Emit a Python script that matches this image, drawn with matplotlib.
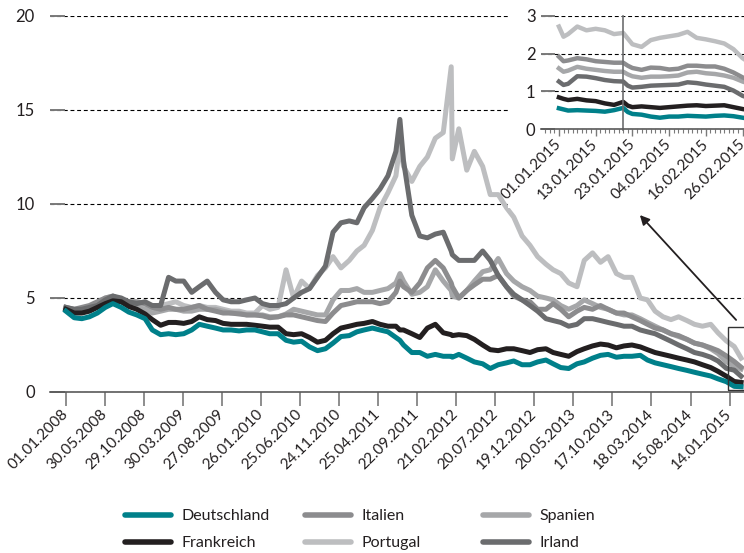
import numpy as np
import pandas as pd
import matplotlib
matplotlib.use('Agg')
import matplotlib.pyplot as plt
from matplotlib.patches import Rectangle, FancyArrowPatch
from matplotlib.lines import Line2D
from matplotlib.ticker import FixedLocator, MultipleLocator

plt.rcParams['font.family'] = ['Lato', 'DejaVu Sans']

START = '2008-01-01'

# first business day of every month + a few extra points (spikes, last day)
month_dates = pd.date_range('2008-01-01', '2015-02-02', freq='BMS')
extra_dates = pd.to_datetime(['2011-07-18', '2012-02-06', '2015-02-27'])
dates = month_dates.append(extra_dates).sort_values()

deutschland = [4.3, 3.95, 3.9, 4.0, 4.2, 4.5, 4.7, 4.5, 4.25, 4.1, 3.9, 3.3, 3.05, 3.1, 3.05, 3.1, 3.3, 3.6, 3.5, 3.4,
               3.3, 3.3, 3.25, 3.3, 3.3, 3.2, 3.1, 3.1, 2.75, 2.65, 2.7, 2.4, 2.2, 2.3, 2.6, 2.95,
               3.0, 3.2, 3.3, 3.4, 3.3, 3.2, 2.9, 2.75,
               2.5, 2.1, 2.1, 1.9, 2.0, 1.9, 1.9, 1.85,
               2.0, 1.8, 1.6, 1.5, 1.25, 1.45, 1.55, 1.65, 1.45, 1.45,
               1.6, 1.7, 1.5, 1.3, 1.25, 1.5, 1.6, 1.8, 1.95, 2.0, 1.85, 1.9,
               1.9, 1.95, 1.7, 1.55, 1.45, 1.35, 1.25, 1.15, 1.05, 0.95, 0.85, 0.7,
               0.55, 0.3, 0.28]
frankreich = [4.4, 4.2, 4.2, 4.3, 4.5, 4.7, 4.85, 4.8, 4.55, 4.4, 4.15, 3.85, 3.55, 3.7, 3.7, 3.65, 3.75, 4.0, 3.85, 3.8,
              3.65, 3.6, 3.6, 3.6, 3.55, 3.5, 3.45, 3.45, 3.1, 3.05, 3.1, 2.9, 2.65, 2.75, 3.1, 3.4,
              3.5, 3.6, 3.65, 3.75, 3.6, 3.5, 3.5, 3.3,
              3.3, 3.1, 2.9, 3.4, 3.6, 3.15, 3.05, 3.0,
              3.05, 3.0, 2.8, 2.5, 2.25, 2.2, 2.3, 2.3, 2.2, 2.1,
              2.25, 2.3, 2.1, 2.0, 1.9, 2.15, 2.3, 2.45, 2.55, 2.5, 2.35, 2.45,
              2.5, 2.4, 2.25, 2.1, 2.0, 1.9, 1.8, 1.7, 1.6, 1.45, 1.3, 1.1,
              0.84, 0.56, 0.51]
italien = [4.5, 4.4, 4.5, 4.6, 4.8, 5.0, 5.1, 4.9, 4.8, 4.8, 4.7, 4.5, 4.4, 4.5, 4.4, 4.4, 4.5, 4.6, 4.4, 4.3,
           4.2, 4.2, 4.15, 4.1, 4.1, 4.05, 3.95, 4.0, 4.1, 4.1, 4.0, 3.9, 3.8, 3.75, 4.2, 4.6,
           4.7, 4.8, 4.8, 4.8, 4.7, 4.8, 5.3, 5.9,
           5.6, 5.3, 5.8, 6.6, 7.0, 6.6, 5.8, 5.6,
           5.0, 5.4, 5.7, 6.0, 6.0, 6.2, 5.6, 5.1, 4.9, 4.8,
           4.4, 4.4, 4.7, 4.4, 4.0, 4.3, 4.5, 4.4, 4.6, 4.4, 4.2, 4.2,
           4.0, 3.8, 3.6, 3.4, 3.3, 3.1, 3.0, 2.8, 2.6, 2.5, 2.35, 2.2,
           1.92, 1.62, 1.32]
spanien = [4.4, 4.2, 4.3, 4.4, 4.6, 4.9, 5.0, 4.8, 4.6, 4.5, 4.4, 4.2, 4.3, 4.4, 4.4, 4.3, 4.3, 4.4, 4.4, 4.4,
           4.3, 4.2, 4.2, 4.1, 4.1, 4.1, 4.0, 4.0, 4.15, 4.4, 4.3, 4.2, 4.1, 4.1, 4.9, 5.4,
           5.4, 5.5, 5.3, 5.3, 5.4, 5.5, 5.8, 6.3,
           5.9, 5.2, 5.3, 5.6, 6.5, 5.9, 5.4, 5.1,
           5.0, 5.4, 5.9, 6.4, 6.5, 7.1, 6.3, 5.9, 5.6, 5.4,
           5.1, 5.0, 4.9, 4.6, 4.4, 4.6, 4.9, 4.7, 4.5, 4.4, 4.2, 4.1,
           4.1, 3.9, 3.7, 3.5, 3.3, 3.1, 2.95, 2.8, 2.6, 2.5, 2.3, 2.05,
           1.61, 1.39, 1.22]
portugal = [4.5, 4.3, 4.4, 4.5, 4.7, 5.0, 5.1, 4.9, 4.7, 4.6, 4.5, 4.3, 4.6, 4.7, 4.8, 4.6, 4.5, 4.6, 4.5, 4.5,
            4.4, 4.3, 4.3, 4.2, 4.2, 4.6, 4.4, 4.5, 6.5, 5.0, 5.9, 5.5, 6.2, 6.6, 7.2, 6.6,
            7.0, 7.5, 7.8, 8.6, 9.8, 10.6, 11.5, 13.2,
            12.0, 11.2, 12.0, 12.5, 13.5, 13.8, 17.3, 12.4,
            14.0, 11.8, 12.8, 12.0, 10.5, 10.5, 9.8, 9.3, 8.3, 7.8,
            7.2, 6.8, 6.5, 6.3, 5.8, 5.6, 7.0, 7.4, 6.9, 7.2, 6.3, 6.1,
            6.1, 5.0, 4.9, 4.3, 4.0, 3.85, 4.0, 3.8, 3.6, 3.5, 3.6, 3.15,
            2.72, 2.42, 1.8]
irland = [4.5, 4.4, 4.4, 4.5, 4.6, 4.9, 5.1, 5.0, 4.8, 4.7, 4.8, 4.6, 4.6, 6.1, 5.9, 5.9, 5.3, 5.6, 5.9, 5.3,
          4.9, 4.8, 4.8, 4.9, 5.0, 4.7, 4.6, 4.6, 4.7, 5.0, 5.3, 5.5, 6.1, 6.7, 8.5, 9.0,
          9.1, 9.0, 9.8, 10.3, 10.8, 11.5, 12.8, 14.5,
          12.3, 9.4, 8.3, 8.2, 8.4, 8.5, 7.5, 7.3,
          7.0, 7.0, 7.0, 7.5, 7.0, 6.2, 5.6, 5.2, 4.9, 4.6,
          4.3, 3.9, 3.8, 3.7, 3.5, 3.6, 3.9, 3.9, 3.8, 3.7, 3.6, 3.5,
          3.5, 3.3, 3.2, 3.1, 2.9, 2.7, 2.5, 2.3, 2.1, 2.0, 1.85, 1.65,
          1.26, 1.16, 0.84]

# daily detail for the inset (Jan/Feb 2015)
inset_dates = ['2015-01-01', '2015-01-02', '2015-01-05', '2015-01-07', '2015-01-09', '2015-01-13',
               '2015-01-15', '2015-01-19', '2015-01-21', '2015-01-22', '2015-01-23', '2015-01-27',
               '2015-01-29', '2015-02-02', '2015-02-04', '2015-02-06', '2015-02-10', '2015-02-12',
               '2015-02-16', '2015-02-18', '2015-02-20', '2015-02-24', '2015-02-26', '2015-02-27']
in_deutschland = [0.55, 0.52, 0.49, 0.5, 0.49, 0.48, 0.46, 0.5, 0.56, 0.45, 0.4, 0.38,
                  0.33, 0.3, 0.33, 0.33, 0.35, 0.34, 0.33, 0.35, 0.36, 0.34, 0.3, 0.28]
in_frankreich = [0.84, 0.8, 0.77, 0.8, 0.76, 0.74, 0.68, 0.64, 0.72, 0.62, 0.58, 0.6,
                 0.58, 0.56, 0.58, 0.6, 0.62, 0.63, 0.61, 0.62, 0.63, 0.58, 0.53, 0.51]
in_italien = [1.92, 1.8, 1.82, 1.88, 1.85, 1.8, 1.78, 1.76, 1.76, 1.68, 1.62, 1.57,
              1.63, 1.62, 1.58, 1.6, 1.68, 1.68, 1.66, 1.66, 1.6, 1.5, 1.37, 1.32]
in_spanien = [1.61, 1.52, 1.55, 1.65, 1.6, 1.57, 1.54, 1.52, 1.52, 1.45, 1.4, 1.36,
              1.39, 1.39, 1.4, 1.42, 1.5, 1.52, 1.48, 1.46, 1.42, 1.36, 1.26, 1.22]
in_portugal = [2.72, 2.45, 2.52, 2.72, 2.62, 2.66, 2.62, 2.52, 2.55, 2.4, 2.25, 2.18,
               2.36, 2.42, 2.46, 2.5, 2.58, 2.42, 2.38, 2.33, 2.27, 2.12, 1.88, 1.8]
in_irland = [1.26, 1.17, 1.2, 1.4, 1.39, 1.35, 1.3, 1.27, 1.26, 1.15, 1.1, 1.12,
             1.15, 1.16, 1.17, 1.18, 1.24, 1.22, 1.18, 1.15, 1.12, 1.02, 0.88, 0.84]

main_ticks = ['01.01.2008', '30.05.2008', '29.10.2008', '30.03.2009', '27.08.2009', '26.01.2010',
              '25.06.2010', '24.11.2010', '25.04.2011', '22.09.2011', '21.02.2012', '20.07.2012',
              '19.12.2012', '20.05.2013', '17.10.2013', '18.03.2014', '15.08.2014', '14.01.2015']
inset_ticks = ['01.01.2015', '13.01.2015', '23.01.2015', '04.02.2015', '16.02.2015', '26.02.2015']
qe_date = '2015-01-21'

colors = {'Deutschland': '#00808a', 'Frankreich': '#231f20', 'Italien': '#8c8c8e',
          'Portugal': '#bdbec0', 'Spanien': '#a6a7a9', 'Irland': '#6b6c6e'}
main_data = {'Deutschland': deutschland, 'Frankreich': frankreich, 'Italien': italien,
             'Portugal': portugal, 'Spanien': spanien, 'Irland': irland}
inset_data = {'Deutschland': in_deutschland, 'Frankreich': in_frankreich, 'Italien': in_italien,
              'Portugal': in_portugal, 'Spanien': in_spanien, 'Irland': in_irland}
draw_order = ['Portugal', 'Spanien', 'Italien', 'Irland', 'Frankreich', 'Deutschland']


def bday(d, start=START):
    # business-day index counted from start
    d = pd.DatetimeIndex(pd.to_datetime(np.atleast_1d(d)))
    return np.busday_count(np.datetime64(start), d.values.astype('datetime64[D]'))


def dmy(labels):
    return pd.to_datetime(labels, format='%d.%m.%Y')


GRID = dict(color='black', lw=0.8, ls=(0, (3.5, 2.5)))
TICKC = '#7a7a7a'
TXT = '#231f20'

fig = plt.figure(figsize=(7.44, 5.53), dpi=100)

# ---- main chart
ax = fig.add_axes([50 / 744, 161 / 553, 694 / 744, 376 / 553])
x = bday(dates)
for n in draw_order:
    ax.plot(x, main_data[n], color=colors[n], lw=3.6, solid_joinstyle='round')
ax.set_ylim(0, 20)
ax.set_xlim(-44, 1876)
ax.set_yticks([0, 5, 10, 15, 20])
ax.yaxis.grid(True, **GRID)
ax.set_axisbelow(True)
ax.xaxis.set_major_locator(FixedLocator(bday(dmy(main_ticks))))
ax.set_xticklabels(main_ticks, rotation=45, ha='right', va='center', rotation_mode='anchor')
ax.tick_params(axis='y', direction='in', length=11, width=1.4, color=TICKC, pad=11,
               labelsize=12, labelcolor=TXT)
ax.tick_params(axis='x', direction='out', length=10, width=1.2, color=TICKC, pad=4,
               labelsize=11, labelcolor=TXT)
for s in ['left', 'right', 'top']:
    ax.spines[s].set_visible(False)
ax.spines['bottom'].set_color('#5a5a5a')
ax.spines['bottom'].set_linewidth(1.2)

# box around the zoomed period
ax.add_patch(Rectangle((bday('2015-01-08')[0], 0.1), 200, 3.35, fill=False,
                       edgecolor='#333333', lw=1.0, zorder=5))

# white area behind the inset
fig.add_artist(Rectangle((508 / 744, (553 - 208) / 553), 236 / 744, 208 / 553,
                         transform=fig.transFigure, facecolor='white', edgecolor='none', zorder=1))

# ---- inset
axi = fig.add_axes([541 / 744, (553 - 129) / 553, 203 / 744, 113 / 553])
axi.set_zorder(2)
axi.set_facecolor('none')
xi = bday(inset_dates, start='2015-01-01')
for n in draw_order:
    axi.plot(xi, inset_data[n], color=colors[n], lw=3.2, solid_joinstyle='round')
axi.set_ylim(0, 3)
axi.set_xlim(-3.9, 40.3)
axi.set_yticks([0, 1, 2, 3])
axi.yaxis.grid(True, **GRID)
axi.set_axisbelow(True)
axi.xaxis.set_major_locator(FixedLocator(bday(dmy(inset_ticks), start='2015-01-01')))
axi.xaxis.set_minor_locator(MultipleLocator(1))
axi.set_xticklabels(inset_ticks, rotation=45, ha='right', va='center', rotation_mode='anchor')
axi.tick_params(axis='y', direction='in', length=10, width=1.4, color=TICKC, pad=4,
                labelsize=12, labelcolor=TXT)
axi.tick_params(axis='x', which='major', direction='out', length=5, width=1.0, color=TICKC, pad=4,
                labelsize=11, labelcolor=TXT)
axi.tick_params(axis='x', which='minor', direction='out', length=3, width=0.8, color=TICKC)
for s in ['left', 'right', 'top']:
    axi.spines[s].set_visible(False)
axi.spines['bottom'].set_color('#5a5a5a')
axi.spines['bottom'].set_linewidth(1.2)
axi.axvline(bday(qe_date, start='2015-01-01')[0], ymin=-0.01, ymax=1,
            color='#6d6e70', lw=1.2, clip_on=False)

# arrow from the box to the inset
fig.add_artist(FancyArrowPatch((738 / 744, (553 - 322) / 553), (638 / 744, (553 - 213) / 553),
                               transform=fig.transFigure, arrowstyle='-|>', mutation_scale=14,
                               lw=1.3, color='#231f20', zorder=5))

# ---- legend: three columns placed by hand
cols = [(['Deutschland', 'Frankreich'], 125), (['Italien', 'Portugal'], 305), (['Spanien', 'Irland'], 483)]
for labels, xpx in cols:
    handles = [Line2D([], [], color=colors[n], lw=4, solid_capstyle='round') for n in labels]
    leg = fig.legend(handles, labels, loc='upper left', bbox_to_anchor=(xpx / 744, (553 - 509) / 553),
                     frameon=False, fontsize=11.5, handlelength=2.9, handletextpad=0.65,
                     labelspacing=0.8, borderpad=0, borderaxespad=0)
    for t in leg.get_texts():
        t.set_color(TXT)

fig.savefig('out.png', dpi=100)
